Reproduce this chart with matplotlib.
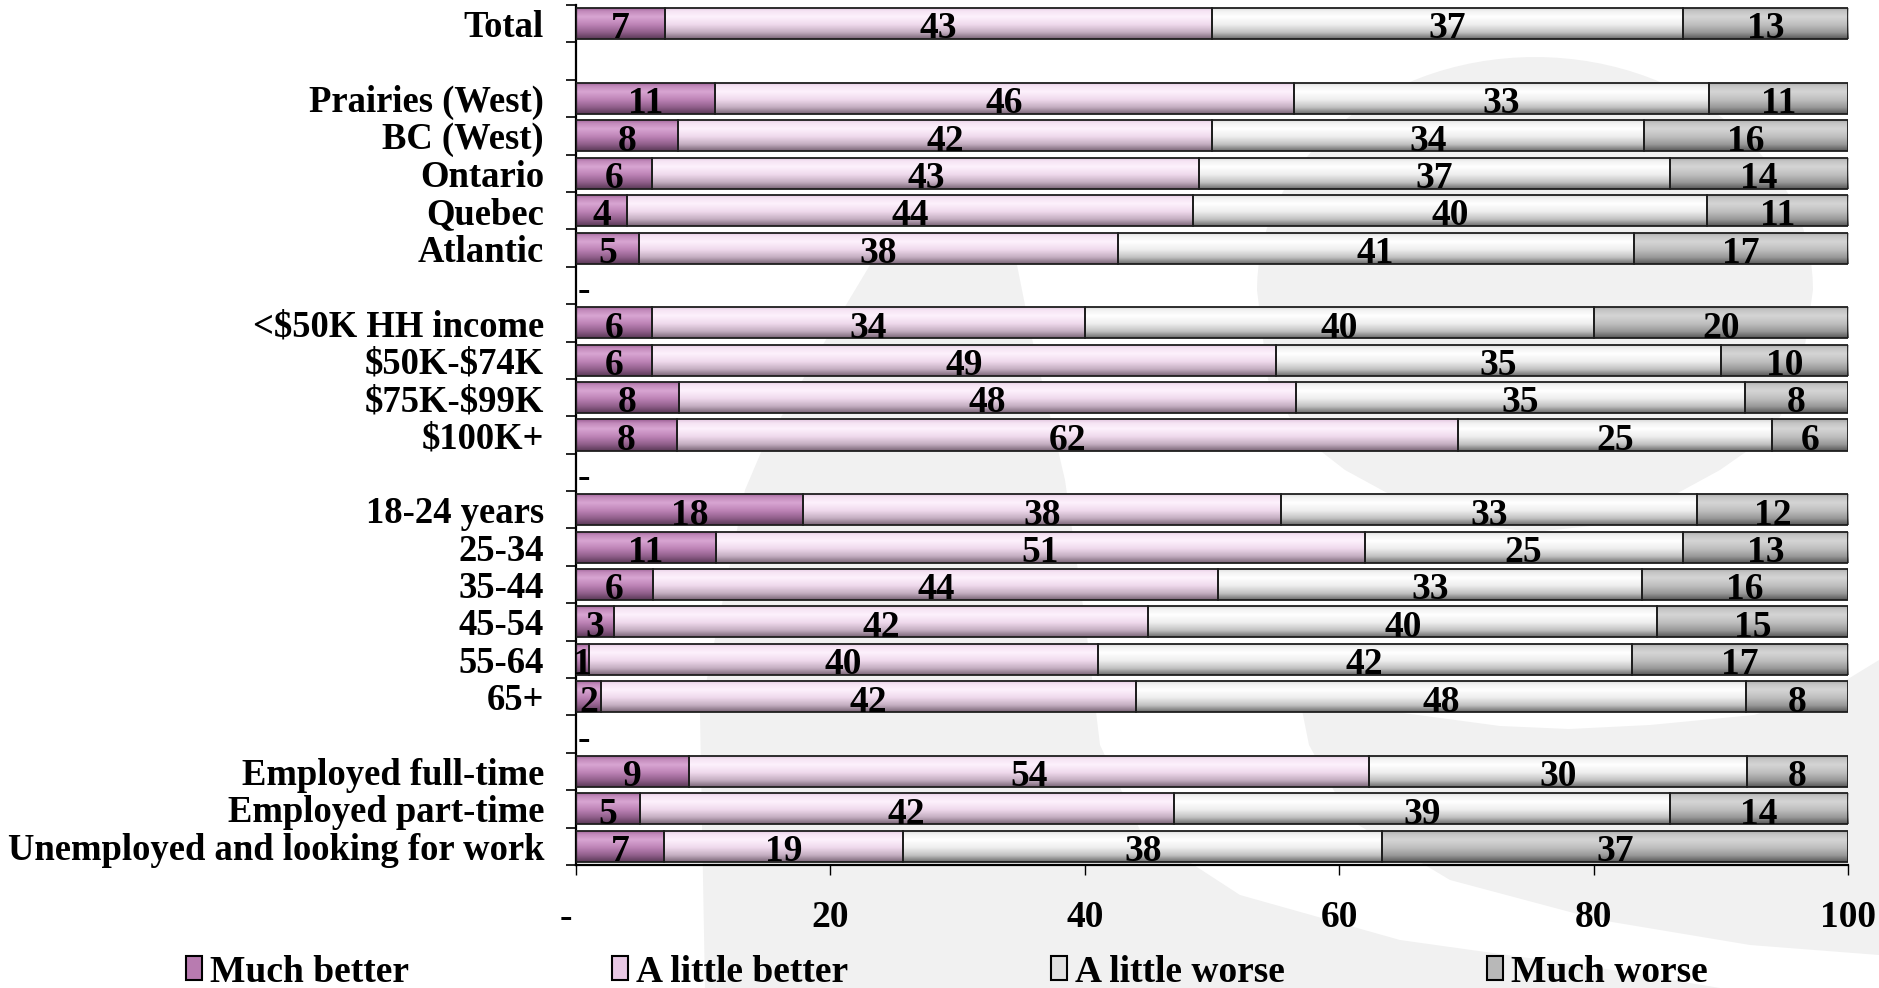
import numpy as np
import matplotlib
matplotlib.use("Agg")
import matplotlib.pyplot as plt
from matplotlib.patches import Polygon, Patch
from matplotlib.colors import LinearSegmentedColormap

# ---------------- data ----------------
categories = ["Total", "", "Prairies (West)", "BC (West)", "Ontario", "Quebec", "Atlantic", "-",
              "<$50K HH income", "$50K-$74K", "$75K-$99K", "$100K+", "-",
              "18-24 years", "25-34", "35-44", "45-54", "55-64", "65+", "-",
              "Employed full-time", "Employed part-time", "Unemployed and looking for work"]
series_names = ["Much better", "A little better", "A little worse", "Much worse"]
much_better   = [7, None, 11, 8, 6, 4, 5, None, 6, 6, 8, 8, None, 18, 11, 6, 3, 1, 2, None, 9, 5, 7]
little_better = [43, None, 46, 42, 43, 44, 38, None, 34, 49, 48, 62, None, 38, 51, 44, 42, 40, 42, None, 54, 42, 19]
little_worse  = [37, None, 33, 34, 37, 40, 41, None, 40, 35, 35, 25, None, 33, 25, 33, 40, 42, 48, None, 30, 39, 38]
much_worse    = [13, None, 11, 16, 14, 11, 17, None, 20, 10, 8, 6, None, 12, 13, 16, 15, 17, 8, None, 8, 14, 37]
x_ticks = [0, 20, 40, 60, 80, 100]
x_tick_labels = ["-  ", "20", "40", "60", "80", "100"]

# ---------------- style ----------------
plt.rcParams["font.family"] = ["Liberation Serif", "DejaVu Serif"]
plt.rcParams["font.weight"] = "bold"
plt.rcParams["text.parse_math"] = False
FS = 27
FS_Y = 26.4

grad_stops = [
    [(0.0, "#9a5c93"), (0.12, "#c28abb"), (0.3, "#d8a5d2"), (0.55, "#bd83b6"), (0.8, "#8f5e8a"), (1.0, "#5a3956")],
    [(0.0, "#e2c5df"), (0.12, "#f6e4f4"), (0.3, "#fdf1fc"), (0.55, "#efd9ec"), (0.8, "#c2acbf"), (1.0, "#7a6677")],
    [(0.0, "#d6d6d6"), (0.12, "#f2f2f2"), (0.3, "#ffffff"), (0.55, "#eeeeee"), (0.8, "#c0c0c0"), (1.0, "#6c6c6c")],
    [(0.0, "#a6a6a6"), (0.12, "#c4c4c4"), (0.3, "#d5d5d5"), (0.55, "#bfbfbf"), (0.8, "#989898"), (1.0, "#585858")],
]
legend_colors = ["#b87bb0", "#e8c8e4", "#e0e0e0", "#b8b8b8"]
grad_arrays = []
for stops in grad_stops:
    cm = LinearSegmentedColormap.from_list("g", stops)
    grad_arrays.append(cm(np.linspace(0, 1, 64))[:, None, :3])

W, H = 1879, 988
fig = plt.figure(figsize=(W / 100, H / 100), dpi=100)

# ---------------- background watermark ----------------
bg = fig.add_axes([0, 0, 1, 1], zorder=0)
bg.set_xlim(0, W)
bg.set_ylim(H, 0)
bg.axis("off")
wm = "#f1f1f1"
t = np.linspace(0, np.pi, 60)
dome_top = np.column_stack([1535 + 278 * np.cos(t), 290 - 233 * np.sin(t)])
dome_bot = np.array([[1257, 290], [1268, 380], [1300, 435], [1345, 470], [1400, 500], [1470, 525],
                     [1535, 532], [1600, 525], [1665, 500], [1720, 470], [1770, 435], [1800, 380], [1813, 290]])
bg.add_patch(Polygon(np.vstack([dome_top, dome_bot]), closed=True, facecolor=wm, edgecolor="none"))
left_arm = np.array([[885, 240], [1012, 240], [1030, 330], [1065, 480], [1085, 620], [1100, 745],
                     [1140, 830], [1240, 895], [1400, 940], [1600, 968], [1720, 988],
                     [705, 988], [700, 713], [745, 490], [762, 450], [846, 305]])
bg.add_patch(Polygon(left_arm, closed=True, facecolor=wm, edgecolor="none"))
crescent = np.array([[1300, 700], [1418, 715], [1500, 726], [1569, 729], [1650, 725], [1754, 715],
                     [1830, 690], [W, 660], [W, 955], [1750, 945], [1600, 920], [1450, 880],
                     [1350, 820], [1309, 745]])
bg.add_patch(Polygon(crescent, closed=True, facecolor=wm, edgecolor="none"))

# ---------------- main axes ----------------
ax = fig.add_axes([576 / W, 1 - 865 / H, (1848 - 576) / W, (865 - 5) / H], zorder=1)
ax.patch.set_alpha(0)

n = len(categories)
ypos = np.arange(n)[::-1]
rows = [i for i in range(n) if much_better[i] is not None]
series = [much_better, little_better, little_worse, much_worse]
vals = np.array([[s[i] for s in series] for i in rows], dtype=float)
pct = vals / vals.sum(axis=1, keepdims=True) * 100
left = np.zeros(len(rows))
bar_h = 0.83
for k in range(4):
    bars = ax.barh(ypos[rows], pct[:, k], left=left, height=bar_h, facecolor="none",
                   edgecolor="#1e1e1e", linewidth=1.3, zorder=3)
    for b, v in zip(bars, vals[:, k]):
        x0, y0, w, h = b.get_x(), b.get_y(), b.get_width(), b.get_height()
        im = ax.imshow(grad_arrays[k], extent=(x0, x0 + w, y0, y0 + h), origin="upper",
                       aspect="auto", interpolation="bilinear", zorder=2)
        im.set_clip_path(b)
        ax.text(x0 + w / 2, y0 + 0.02, f"{v:.0f}", ha="center", va="baseline",
                fontsize=FS, fontweight="bold", zorder=4)
    left += pct[:, k]

ax.set_xlim(0, 100)
ax.set_ylim(-0.5, n - 0.5)

# y axis
ax.set_yticks(ypos)
ax.set_yticklabels([c if c != "-" else "" for c in categories], fontsize=FS_Y, fontweight="bold")
ax.tick_params(axis="y", which="major", length=0, pad=23)
ax.set_yticks(np.arange(n + 1) - 0.5, minor=True)
ax.tick_params(axis="y", which="minor", length=7, width=1.2, direction="out")
for i, c in enumerate(categories):
    if c == "-":
        ax.text(0.1, ypos[i] - 0.14, "-", ha="left", va="center", fontsize=FS, fontweight="bold")

# x axis
ax.set_xticks(x_ticks)
ax.set_xticklabels(x_tick_labels, fontsize=FS, fontweight="bold")
ax.tick_params(axis="x", which="major", length=7, width=1.0, direction="out", pad=18)

for s in ["top", "right"]:
    ax.spines[s].set_visible(False)
ax.spines["left"].set_linewidth(1.6)
ax.spines["bottom"].set_linewidth(1.6)

# ---------------- legend ----------------
leg_x = [186, 612, 1051, 1487]
for k in range(4):
    h = Patch(facecolor=legend_colors[k], edgecolor="black", linewidth=1.5)
    lg = fig.legend([h], [series_names[k]], loc="center left",
                    bbox_to_anchor=(leg_x[k] / W, 1 - 972 / H), frameon=False,
                    handlelength=0.42, handleheight=0.62, handletextpad=0.22,
                    borderaxespad=0, borderpad=0, prop={"size": FS, "weight": "bold"})

fig.savefig("out.png", dpi=100)
